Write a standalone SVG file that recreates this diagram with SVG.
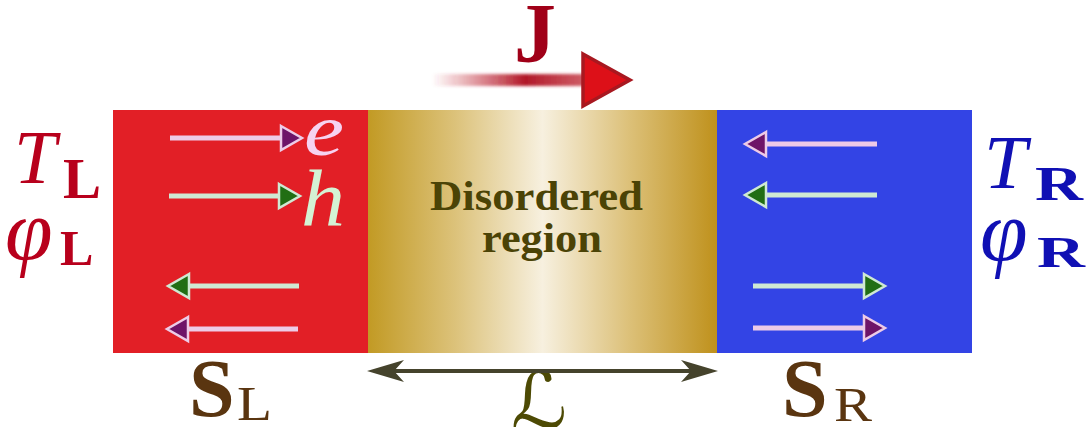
<svg xmlns="http://www.w3.org/2000/svg" width="1091" height="427" viewBox="0 0 1091 427">
<defs>
<linearGradient id="gold" x1="0" y1="0" x2="1" y2="0">
<stop offset="0" stop-color="#c29a24"/>
<stop offset="0.25" stop-color="#dcc27a"/>
<stop offset="0.5" stop-color="#f7f0df"/>
<stop offset="0.75" stop-color="#dcc078"/>
<stop offset="1" stop-color="#bf911c"/>
</linearGradient>
<linearGradient id="jgrad" x1="0" y1="0" x2="1" y2="0">
<stop offset="0" stop-color="#c8303c" stop-opacity="0"/>
<stop offset="0.6" stop-color="#b01828" stop-opacity="1"/>
<stop offset="1" stop-color="#c84450" stop-opacity="0.85"/>
</linearGradient>
<filter id="soft" x="-10%" y="-100%" width="120%" height="300%">
<feGaussianBlur stdDeviation="1.6"/>
</filter>
</defs>
<style>
.serif{font-family:"Liberation Serif","DejaVu Serif",serif}
.it{font-style:italic}
.bd{font-weight:bold}
.red{fill:#b8001c}
.blue{fill:#1010b4}
.brown{fill:#5a3510}
.pl{stroke:#edcbe7;stroke-width:5;fill:none}
.gl{stroke:#cfe9d3;stroke-width:5;fill:none}
.ph{fill:#6e1468;stroke:#edcbe7;stroke-width:2.5;stroke-linejoin:miter}
.gh{fill:#216e14;stroke:#cfe9d3;stroke-width:2.5;stroke-linejoin:miter}
</style>
<rect width="1091" height="427" fill="#ffffff"/>

<g id="left-lead">
<rect x="113" y="110" width="255" height="243" fill="#e21f26"/>
<line class="pl" x1="170" y1="138" x2="284" y2="138"/>
<polygon class="ph" points="281,126 302,138 281,150"/>
<line class="gl" x1="169" y1="196" x2="282" y2="196"/>
<polygon class="gh" points="279,184 300,196 279,208"/>
<line class="gl" x1="186" y1="286" x2="299" y2="286"/>
<polygon class="gh" points="189,274 168,286 189,298"/>
<line class="pl" x1="185" y1="329" x2="298" y2="329"/>
<polygon class="ph" points="188,317 167,329 188,341"/>
<text class="serif it" x="304" y="155" font-size="74" fill="#f6d2f0" textLength="40" lengthAdjust="spacingAndGlyphs">e</text>
<text class="serif it" x="301" y="225" font-size="80" fill="#d4f2d4" textLength="44" lengthAdjust="spacingAndGlyphs">h</text>
</g>

<g id="disordered-region">
<rect x="368" y="110" width="349" height="243" fill="url(#gold)"/>
<text class="serif bd" x="430" y="210" font-size="42" fill="#4b4306" textLength="213" lengthAdjust="spacingAndGlyphs">Disordered</text>
<text class="serif bd" x="482" y="252" font-size="42" fill="#4b4306" textLength="120" lengthAdjust="spacingAndGlyphs">region</text>
</g>

<g id="right-lead">
<rect x="717" y="110" width="255" height="243" fill="#3344e5"/>
<line class="pl" x1="763" y1="144" x2="877" y2="144"/>
<polygon class="ph" points="766,132 745,144 766,156"/>
<line class="gl" x1="763" y1="195" x2="877" y2="195"/>
<polygon class="gh" points="766,183 745,195 766,207"/>
<line class="gl" x1="753" y1="286" x2="867" y2="286"/>
<polygon class="gh" points="864,274 885,286 864,298"/>
<line class="pl" x1="753" y1="328" x2="867" y2="328"/>
<polygon class="ph" points="864,316 885,328 864,340"/>
</g>

<g id="left-labels">
<text class="serif it red" x="14" y="183" font-size="76">T</text>
<text class="serif bd red" x="63" y="198" font-size="57">L</text>
<text class="serif it red" x="5" y="259" font-size="86">φ</text>
<text class="serif bd red" x="60" y="265" font-size="50">L</text>
</g>

<g id="right-labels">
<text class="serif it blue" x="984" y="188" font-size="77">T</text>
<text class="serif bd blue" x="1035" y="200" font-size="49" textLength="48" lengthAdjust="spacingAndGlyphs">R</text>
<text class="serif it blue" x="980" y="260" font-size="86">φ</text>
<text class="serif bd blue" x="1037" y="267" font-size="45" textLength="48" lengthAdjust="spacingAndGlyphs">R</text>
</g>

<g id="current-J">
<rect x="432" y="74" width="156" height="12" fill="url(#jgrad)" filter="url(#soft)"/>
<polygon points="583,54 630,80 583,106" fill="#dd1018" stroke="#a81820" stroke-width="3.5" stroke-linejoin="miter"/>
<text class="serif bd" x="514" y="62" font-size="84" fill="#a00018">J</text>
</g>

<g id="bottom-labels">
<text class="serif bd brown" x="189" y="416" font-size="82">S</text>
<text class="serif brown" x="237" y="420" font-size="48" textLength="35" lengthAdjust="spacingAndGlyphs">L</text>
<text class="serif bd brown" x="782" y="416" font-size="82">S</text>
<text class="serif brown" x="834" y="421" font-size="48" textLength="38" lengthAdjust="spacingAndGlyphs">R</text>
<text x="511" y="428" font-size="78" font-style="italic" font-family="'DejaVu Serif','DejaVu Sans',serif" fill="#4d4a04">ℒ</text>
</g>

<g id="connectors">
<line x1="385" y1="371" x2="700" y2="371" stroke="#45432c" stroke-width="4"/>
<path d="M367,371 L404,360 L394,371 L404,382 Z" fill="#45432c"/>
<path d="M718,371 L681,360 L691,371 L681,382 Z" fill="#45432c"/>
</g>
</svg>
